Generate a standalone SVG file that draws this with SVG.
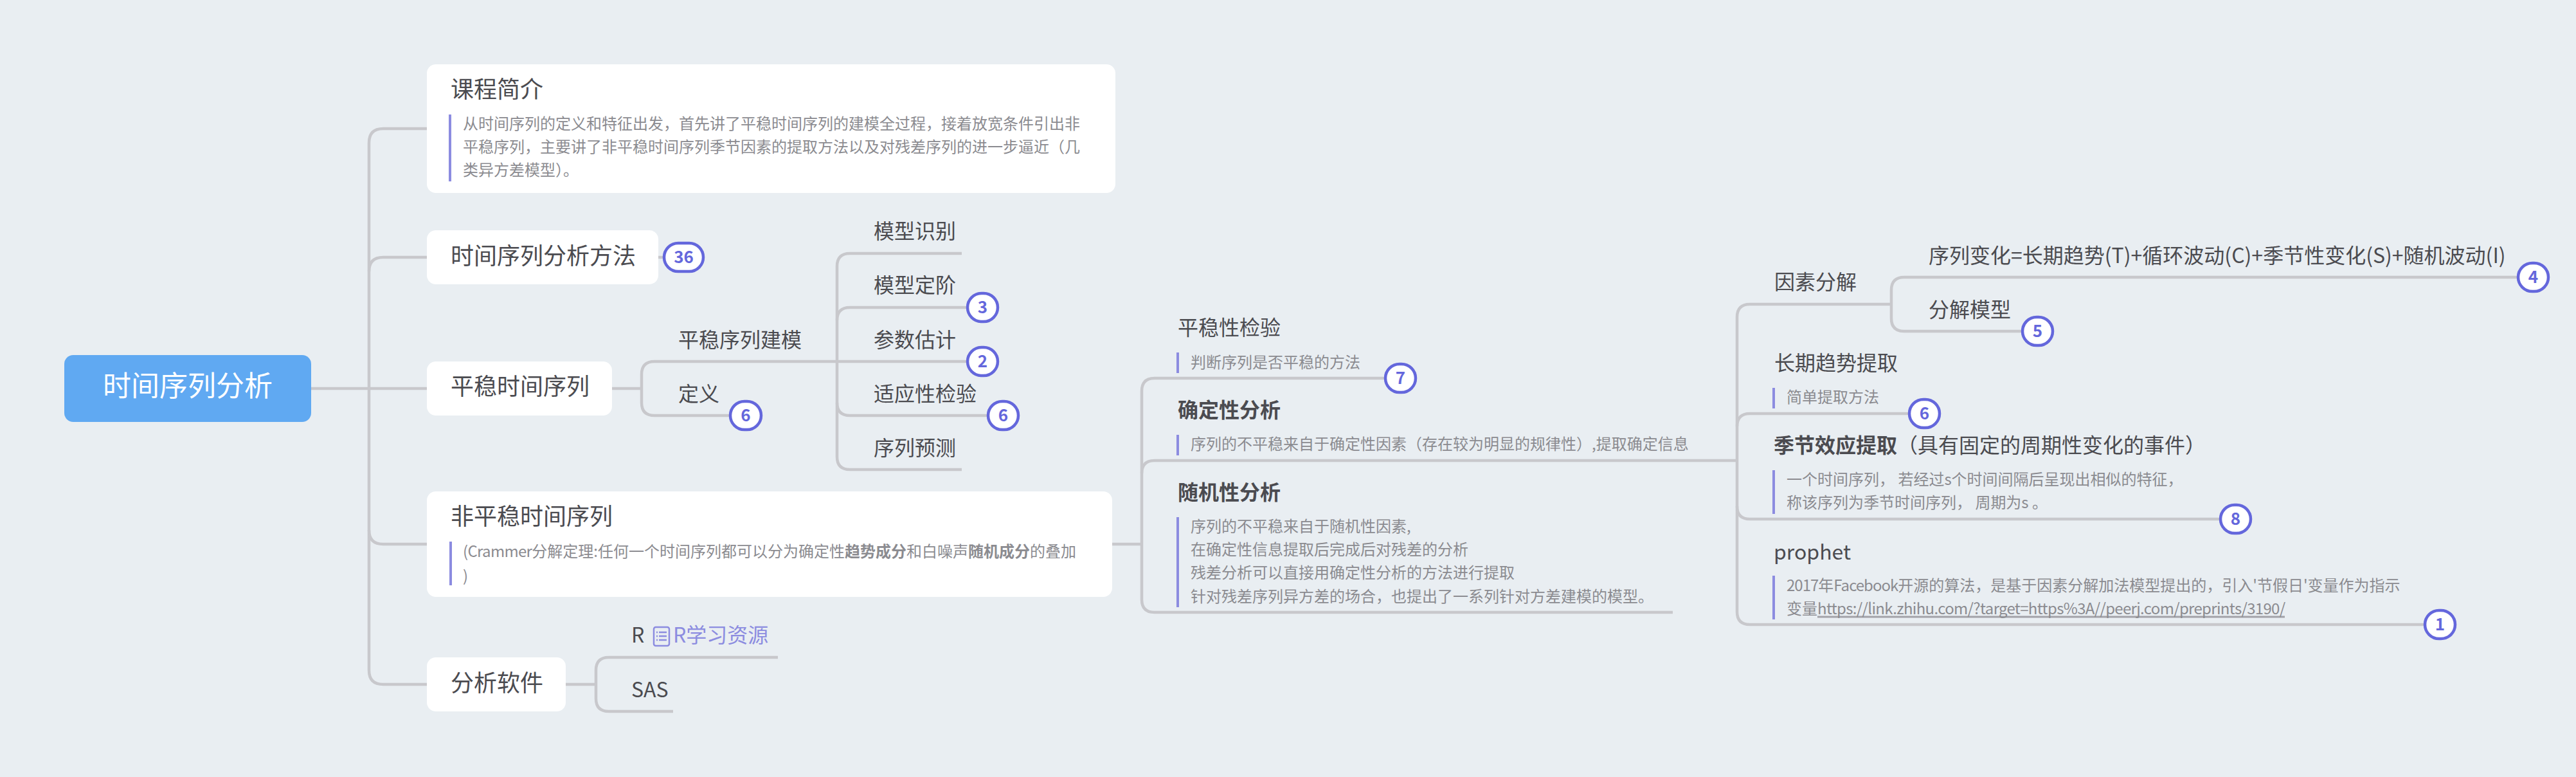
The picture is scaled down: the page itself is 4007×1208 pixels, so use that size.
<svg xmlns="http://www.w3.org/2000/svg" width="4007" height="1208" viewBox="0 0 4007 1208">
<style>
text{font-family:"Noto Sans CJK SC","Noto Sans",sans-serif;fill:#4b4b50}
.t36{font-size:36px}
.t32{font-size:32px}
.b{font-weight:700}
.body{font-size:24px;fill:#8b8b90}
.lat{letter-spacing:-.68px}
.lat2{letter-spacing:-1px}
.bar{fill:#8c8ce0}
.card{fill:#fff}
.conn{fill:none;stroke:#c8c8cc;stroke-width:4.5}
.badge rect{fill:#fff;stroke:#6467dc;stroke-width:4.5}
.badge text{font-size:26px;font-weight:700;fill:#6467dc;text-anchor:middle}
</style>
<rect width="4007" height="1208" fill="#e9eef2"/>
<g id="connectors" class="conn">
<path d="M484 604H664"/>
<path d="M664 200H596Q574 200 574 222V1042Q574 1064 596 1064H664"/>
<path d="M574 422Q574 400 596 400H664"/>
<path d="M574 824Q574 846 596 846H664"/>
<path d="M1024 400H1033"/>
<path d="M952 604H998"/>
<path d="M1505 562H1018Q998 562 998 582V626Q998 646 1018 646H1136"/>
<path d="M1496 394H1322Q1302 394 1302 414V710Q1302 730 1322 730H1496"/>
<path d="M1505 478H1322Q1302 478 1302 498"/>
<path d="M1302 626Q1302 646 1322 646H1537"/>
<path d="M1730 846H1776"/>
<path d="M2155 588H1796Q1776 588 1776 608V932Q1776 952 1796 952H2602"/>
<path d="M1776 736Q1776 716 1796 716H2702"/>
<path d="M880 1064H927"/>
<path d="M1210 1022H947Q927 1022 927 1042V1086Q927 1106 947 1106H1047"/>
<path d="M2702 716V951Q2702 971 2722 971H3772"/>
<path d="M2702 787Q2702 807 2722 807H3454"/>
<path d="M2702 663Q2702 643 2722 643H2970"/>
<path d="M2702 716V493Q2702 473 2722 473H2942"/>
<path d="M3917 431H2962Q2942 431 2942 451V495Q2942 515 2962 515H3146"/>
<path d="M2827 959H3554" style="stroke:#a2a2a8;stroke-width:3"/>
</g>
<g id="root"><rect x="100" y="552" width="384" height="104" rx="14" fill="#60a9f2"/><text x="292" y="616" font-size="44" text-anchor="middle" style="fill:#fff">时间序列分析</text></g>
<g id="n-intro"><rect class="card" x="664" y="100" width="1071" height="200" rx="14"/><text x="701" y="152" class="t36">课程简介</text><rect class="bar" x="698" y="178" width="4" height="104"/>
<text x="720" y="201" class="body">从时间序列的定义和特征出发，首先讲了平稳时间序列的建模全过程，接着放宽条件引出非</text>
<text x="720" y="237" class="body">平稳序列，主要讲了非平稳时间序列季节因素的提取方法以及对残差序列的进一步逼近（几</text>
<text x="720" y="273" class="body">类异方差模型）。</text></g>
<g id="n-method"><rect class="card" x="664" y="358" width="360" height="84" rx="14"/><text x="701" y="411" class="t36">时间序列分析方法</text></g>
<g id="b36" class="badge"><rect x="1033" y="378" width="61" height="44" rx="22"/><text x="1063.5" y="409">36</text></g>
<g id="n-stationary"><rect class="card" x="664" y="562" width="288" height="84" rx="14"/><text x="701" y="614" class="t36">平稳时间序列</text></g>
<g id="n-model"><text x="1055" y="540" class="t32">平稳序列建模</text></g>
<g id="n-def"><text x="1055" y="624" class="t32">定义</text><g class="badge"><rect x="1136" y="624" width="48" height="44" rx="22"/><text x="1160" y="655">6</text></g></g>
<g id="n-a1"><text x="1359" y="371" class="t32">模型识别</text></g>
<g id="n-a2"><text x="1359" y="455" class="t32">模型定阶</text><g class="badge"><rect x="1505" y="456" width="47" height="44" rx="22"/><text x="1528.5" y="487">3</text></g></g>
<g id="n-a3"><text x="1359" y="540" class="t32">参数估计</text><g class="badge"><rect x="1505" y="540" width="47" height="44" rx="22"/><text x="1528.5" y="571">2</text></g></g>
<g id="n-a4"><text x="1359" y="624" class="t32">适应性检验</text><g class="badge"><rect x="1537" y="624" width="47" height="44" rx="22"/><text x="1560.5" y="655">6</text></g></g>
<g id="n-a5"><text x="1359" y="708" class="t32">序列预测</text></g>
<g id="n-nonstat"><rect class="card" x="664" y="764" width="1066" height="164" rx="14"/><text x="701" y="816" class="t36">非平稳时间序列</text><rect class="bar" x="699" y="842" width="4" height="68"/>
<text x="720" y="866" class="body"><tspan class="lat">(Crammer</tspan>分解定理:任何一个时间序列都可以分为确定性<tspan class="b">趋势成分</tspan>和白噪声<tspan class="b">随机成分</tspan>的叠加</text>
<text x="720" y="904" class="body">)</text></g>
<g id="n-soft"><rect class="card" x="664" y="1022" width="216" height="84" rx="14"/><text x="701" y="1075" class="t36">分析软件</text></g>
<g id="n-r"><text x="982" y="999" class="t32">R</text><g fill="none" stroke="#8c8ce0" stroke-width="2.5"><rect x="1017" y="975" width="24" height="29" rx="3"/><path d="M1021 983H1023M1025 983H1037M1021 989H1023M1025 989H1037M1021 995H1023M1025 995H1037"/></g><text x="1047" y="999" class="t32" style="fill:#8c8ce0">R学习资源</text></g>
<g id="n-sas"><text x="982" y="1084" class="t32">SAS</text></g>
<g id="n-test"><text x="1832" y="521" class="t32">平稳性检验</text><rect class="bar" x="1830" y="548" width="4" height="32"/><text x="1852" y="572" class="body">判断序列是否平稳的方法</text><g class="badge"><rect x="2155" y="566" width="47" height="44" rx="22"/><text x="2178.5" y="597">7</text></g></g>
<g id="n-det"><text x="1832" y="649" class="t32 b">确定性分析</text><rect class="bar" x="1830" y="676" width="4" height="32"/><text x="1852" y="699" class="body">序列的不平稳来自于确定性因素（存在较为明显的规律性）,提取确定信息</text></g>
<g id="n-rand"><text x="1832" y="777" class="t32 b">随机性分析</text><rect class="bar" x="1830" y="804" width="4" height="140"/>
<text x="1852" y="827" class="body">序列的不平稳来自于随机性因素,</text>
<text x="1852" y="863" class="body">在确定性信息提取后完成后对残差的分析</text>
<text x="1852" y="899" class="body">残差分析可以直接用确定性分析的方法进行提取</text>
<text x="1852" y="936" class="body">针对残差序列异方差的场合，也提出了一系列针对方差建模的模型。</text></g>
<g id="n-factor"><text x="2760" y="450" class="t32">因素分解</text></g>
<g id="n-f1"><text x="3000" y="409" class="t32">序列变化=长期趋势(T)+循环波动(C)+季节性变化(S)+随机波动(I)</text><g class="badge"><rect x="3917" y="409" width="47" height="44" rx="22"/><text x="3940.5" y="440">4</text></g></g>
<g id="n-f2"><text x="3000" y="493" class="t32">分解模型</text><g class="badge"><rect x="3146" y="493" width="47" height="44" rx="22"/><text x="3169.5" y="524">5</text></g></g>
<g id="n-trend"><text x="2760" y="576" class="t32">长期趋势提取</text><rect class="bar" x="2757" y="603" width="4" height="32"/><text x="2779" y="626" class="body">简单提取方法</text><g class="badge"><rect x="2970" y="621" width="47" height="44" rx="22"/><text x="2993.5" y="652">6</text></g></g>
<g id="n-season"><text x="2759" y="704" class="t32"><tspan class="b">季节效应提取</tspan>（具有固定的周期性变化的事件）</text><rect class="bar" x="2757" y="731" width="4" height="68"/>
<text x="2779" y="754" class="body">一个时间序列， 若经过s个时间间隔后呈现出相似的特征，</text>
<text x="2779" y="790" class="body">称该序列为季节时间序列， 周期为s 。</text><g class="badge"><rect x="3454" y="785" width="47" height="44" rx="22"/><text x="3477.5" y="816">8</text></g></g>
<g id="n-prophet"><text x="2759" y="870" class="t32">prophet</text><rect class="bar" x="2757" y="895" width="4" height="68"/>
<text x="2779" y="919" class="body"><tspan class="lat2">2017</tspan>年<tspan class="lat2">Facebook</tspan>开源的算法，是基于因素分解加法模型提出的，引入'节假日'变量作为指示</text>
<text x="2779" y="955" class="body">变量<tspan class="lat">https://link.zhihu.com/?target=https%3A//peerj.com/preprints/3190/</tspan></text><g class="badge"><rect x="3772" y="949" width="47" height="44" rx="22"/><text x="3795.5" y="980">1</text></g></g>
</svg>
